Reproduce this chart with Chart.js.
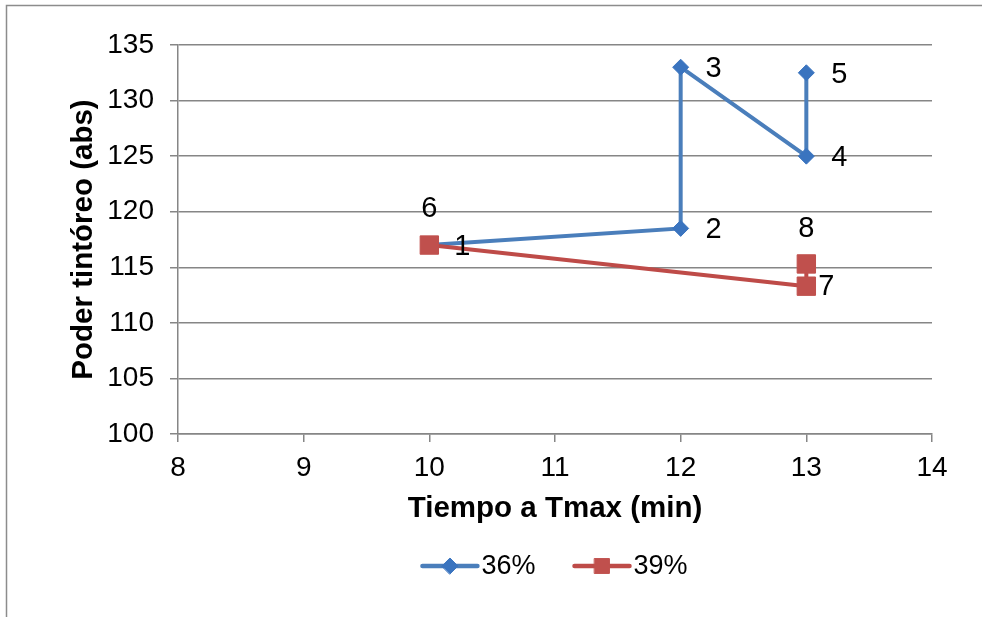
<!DOCTYPE html>
<html>
<head>
<meta charset="utf-8">
<script src="https://cdn.jsdelivr.net/npm/chart.js@4/dist/chart.umd.min.js"></script>
<style>
  html, body { margin: 0; padding: 0; background: #ffffff; }
  #wrap { position: relative; width: 982px; height: 617px; }
  canvas { display: block; }
</style>
</head>
<body>
<div id="wrap"><canvas id="chart" width="982" height="617"></canvas></div>
<script>
// Series names
const seriesNames = ['36%', '39%'];

// 36% series: time to Tmax (min) vs tinting power (abs)
const time36 = [10, 12, 12, 13, 13];
const power36 = [117, 118.5, 133, 125, 132.5];
const pointLabels36 = ['1', '2', '3', '4', '5'];

// 39% series
const time39 = [10, 13, 13];
const power39 = [117, 113.3, 115.3];
const pointLabels39 = ['6', '7', '8'];

// Axis ticks
const xTicks = [8, 9, 10, 11, 12, 13, 14];
const yTicks = [100, 105, 110, 115, 120, 125, 130, 135];

// Where each point's number is written relative to its marker
const labelSpots36 = [[33, 2], [33, 2], [33, 2], [33, 2], [33, 2]];
const labelSpots39 = [[0, -36], [20, 1], [0, -35]];

const FONT = 'Liberation Sans, Arial, sans-serif';
const GRID = '#868686';

const toPoints = (xs, ys) => xs.map((x, i) => ({ x: x, y: ys[i] }));

const frame = {
  id: 'frame',
  beforeDraw(chart) {
    const ctx = chart.ctx;
    ctx.save();
    ctx.strokeStyle = '#8c8c8c';
    ctx.lineWidth = 1.5;
    ctx.beginPath();
    ctx.moveTo(6.5, chart.height);
    ctx.lineTo(6.5, 5.5);
    ctx.lineTo(chart.width, 5.5);
    ctx.stroke();
    ctx.restore();
  }
};

const pointNumbers = {
  id: 'pointNumbers',
  afterDatasetsDraw(chart) {
    const ctx = chart.ctx;
    const texts = [pointLabels36, pointLabels39];
    const spots = [labelSpots36, labelSpots39];
    ctx.save();
    ctx.font = '29px ' + FONT;
    ctx.fillStyle = '#000000';
    ctx.textAlign = 'center';
    ctx.textBaseline = 'middle';
    chart.data.datasets.forEach((ds, di) => {
      const meta = chart.getDatasetMeta(di);
      meta.data.forEach((el, i) => {
        const s = spots[di][i];
        ctx.fillText(texts[di][i], el.x + s[0], el.y + s[1]);
      });
    });
    ctx.restore();
  }
};

// Legend entries drawn as a short line with the series marker in its middle
const legendMarkerRadius = [8, 10.5];
const lineLegend = {
  id: 'lineLegend',
  afterDraw(chart) {
    const ctx = chart.ctx;
    const area = chart.chartArea;
    const y = 566;
    const lineLen = 55, gapText = 4, gapItem = 39;
    ctx.save();
    ctx.font = '27px ' + FONT;
    const widths = chart.data.datasets.map(ds => lineLen + gapText + ctx.measureText(ds.label).width);
    const total = widths.reduce((a, b) => a + b, 0) + gapItem * (widths.length - 1);
    let x = (area.left + area.right) / 2 - total / 2;
    chart.data.datasets.forEach((ds, i) => {
      ctx.strokeStyle = ds.borderColor;
      ctx.lineWidth = ds.borderWidth + 0.5;
      ctx.lineCap = 'round';
      ctx.beginPath();
      ctx.moveTo(x, y);
      ctx.lineTo(x + lineLen, y);
      ctx.stroke();
      ctx.fillStyle = ds.pointBackgroundColor;
      ctx.strokeStyle = ds.pointBorderColor;
      ctx.lineWidth = ds.pointBorderWidth;
      Chart.helpers.drawPoint(ctx, {
        pointStyle: ds.pointStyle,
        radius: legendMarkerRadius[i],
        borderWidth: ds.pointBorderWidth,
        rotation: 0
      }, x + lineLen / 2, y);
      ctx.fillStyle = '#000000';
      ctx.textAlign = 'left';
      ctx.textBaseline = 'middle';
      ctx.fillText(ds.label, x + lineLen + gapText, y + 1);
      x += widths[i] + gapItem;
    });
    ctx.restore();
  }
};

new Chart(document.getElementById('chart'), {
  type: 'scatter',
  data: {
    datasets: [
      {
        label: seriesNames[0],
        data: toPoints(time36, power36),
        showLine: true,
        borderColor: '#4a7ebb',
        borderWidth: 4,
        pointStyle: 'rectRot',
        pointRadius: 8,
        pointHoverRadius: 8,
        pointBackgroundColor: '#3a74bf',
        pointBorderColor: '#3a74bf',
        pointBorderWidth: 1,
        order: 1
      },
      {
        label: seriesNames[1],
        data: toPoints(time39, power39),
        showLine: true,
        borderColor: '#be4b48',
        borderWidth: 4,
        pointStyle: 'rect',
        pointRadius: 13,
        pointHoverRadius: 13,
        pointBackgroundColor: '#c0504d',
        pointBorderColor: '#c0504d',
        pointBorderWidth: 1,
        order: 0
      }
    ]
  },
  options: {
    responsive: false,
    animation: false,
    events: [],
    layout: { padding: { left: 66, top: 45, right: 50, bottom: 86 } },
    plugins: {
      legend: { display: false },
      tooltip: { enabled: false }
    },
    scales: {
      x: {
        type: 'linear',
        min: xTicks[0],
        max: xTicks[xTicks.length - 1],
        afterBuildTicks(scale) { scale.ticks = xTicks.map(v => ({ value: v })); },
        afterFit(scale) { scale.height = 97; },
        border: { color: GRID, width: 1.5 },
        grid: { drawOnChartArea: false, drawTicks: true, tickLength: 8, color: GRID, lineWidth: 1.5 },
        ticks: { color: '#000000', padding: 9, font: { family: FONT, size: 28 } },
        title: {
          display: true,
          text: 'Tiempo a Tmax (min)',
          color: '#000000',
          font: { family: FONT, size: 29.5, weight: 'bold' },
          padding: { top: 0, bottom: 4 }
        }
      },
      y: {
        type: 'linear',
        min: yTicks[0],
        max: yTicks[yTicks.length - 1],
        afterBuildTicks(scale) { scale.ticks = yTicks.map(v => ({ value: v })); },
        afterFit(scale) { scale.width = 112; },
        border: { color: GRID, width: 1.5 },
        grid: { drawOnChartArea: true, drawTicks: true, tickLength: 8, color: GRID, lineWidth: 1.5 },
        ticks: { color: '#000000', padding: 16, font: { family: FONT, size: 28 } },
        title: {
          display: true,
          text: 'Poder tintóreo (abs)',
          color: '#000000',
          font: { family: FONT, size: 29.5, weight: 'bold' },
          padding: { top: 0, bottom: 0 }
        }
      }
    }
  },
  plugins: [frame, pointNumbers, lineLegend]
});
</script>
</body>
</html>
